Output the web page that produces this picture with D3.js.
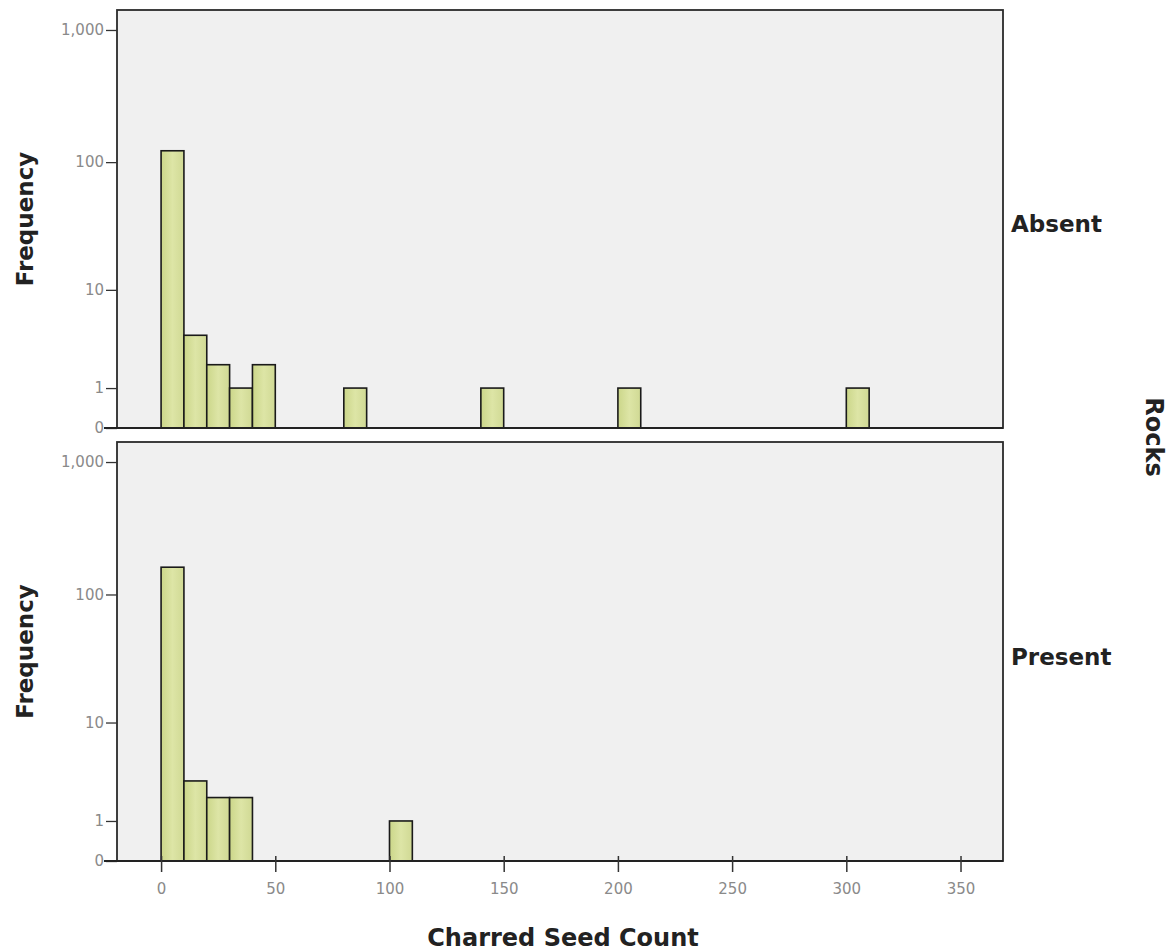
<!DOCTYPE html>
<html>
<head>
<meta charset="utf-8">
<script src="https://cdn.jsdelivr.net/npm/d3@7"></script>
<style>
  body { margin: 0; background: #ffffff; }
  svg { display: block; }
</style>
</head>
<body>
<div id="chart"></div>
<script>
// ---- Data ----
const panels = ["Absent", "Present"];
const binStarts = [0, 10, 20, 30, 40, 80, 100, 140, 200, 300];
const binWidth = 10;
const absentCounts  = [122, 4, 2, 1, 2, 1, 0, 1, 1, 1];
const presentCounts = [161, 3, 2, 2, 0, 0, 1, 0, 0, 0];
const xTicks = [0, 50, 100, 150, 200, 250, 300, 350];
const yTicks = [0, 1, 10, 100, 1000];
const yTickLabels = ["0", "1", "10", "100", "1,000"];
const xTitle = "Charred Seed Count";
const yTitle = "Frequency";
const facetTitle = "Rocks";

const W = 1171, H = 951;
const svg = d3.select("#chart").append("svg").attr("width", W).attr("height", H);

const left = 117, right = 1003;
const panelGeom = [
  { top: 10, bottom: 428 },
  { top: 442, bottom: 861 }
];
const FONT = "DejaVu Sans, sans-serif";

const x = d3.scaleLinear().domain([-19.3, 368.6]).range([left, right]);
const seriesList = [absentCounts, presentCounts];

const defs = svg.append("defs");
const grad = defs.append("linearGradient").attr("id", "barFill").attr("x1", 0).attr("x2", 1).attr("y1", 0).attr("y2", 0);
grad.append("stop").attr("offset", "0%").attr("stop-color", "#cbd689");
grad.append("stop").attr("offset", "50%").attr("stop-color", "#dde5a6");
grad.append("stop").attr("offset", "100%").attr("stop-color", "#d0d994");

panelGeom.forEach((g, i) => {
  const y = d3.scaleSymlog().constant(1).domain([0, 1415]).range([g.bottom, g.top]);
  const gp = svg.append("g");

  gp.append("rect").attr("x", left).attr("y", g.top).attr("width", right - left).attr("height", g.bottom - g.top)
    .attr("fill", "#f0f0f0");

  const data = binStarts.map((b, k) => ({ b, v: seriesList[i][k] })).filter(d => d.v > 0);
  gp.selectAll("rect.bar").data(data).enter().append("rect").attr("class", "bar")
    .attr("x", d => x(d.b))
    .attr("width", d => x(d.b + binWidth) - x(d.b))
    .attr("y", d => y(d.v))
    .attr("height", d => y(0) - y(d.v))
    .attr("fill", "url(#barFill)")
    .attr("stroke", "#1a1a1a").attr("stroke-width", 1.6);

  gp.append("rect").attr("x", left).attr("y", g.top).attr("width", right - left).attr("height", g.bottom - g.top)
    .attr("fill", "none").attr("stroke", "#2a2a2a").attr("stroke-width", 1.8);

  const yAxis = d3.axisLeft(y).tickValues(yTicks).tickFormat((d, k) => yTickLabels[k]).tickSize(11).tickPadding(2);
  const ya = gp.append("g").attr("transform", `translate(${left},0)`).call(yAxis);
  ya.select(".domain").remove();
  ya.selectAll(".tick line").attr("stroke", "#333").attr("stroke-width", 1.3);
  ya.selectAll(".tick text").attr("fill", "#8a8a8a").style("font-family", FONT).style("font-size", "15px");
  gp.append("line").attr("x1", left - 13).attr("x2", right).attr("y1", y(0)).attr("y2", y(0))
    .attr("stroke", "#222").attr("stroke-width", 2);

  svg.append("text").attr("transform", `translate(33,${(g.top + g.bottom) / 2}) rotate(-90)`)
    .attr("text-anchor", "middle").style("font-family", FONT).style("font-weight", "bold")
    .style("font-size", "23px").attr("fill", "#222").text(yTitle);

  svg.append("text").attr("x", 1011).attr("y", (g.top + g.bottom) / 2 + 13)
    .style("font-family", FONT).style("font-weight", "bold")
    .style("font-size", "23px").attr("fill", "#222").text(panels[i]);
});

const xAxis = d3.axisBottom(x).tickValues(xTicks).tickSize(0).tickPadding(22);
const xa = svg.append("g").attr("transform", `translate(0,${panelGeom[1].bottom})`).call(xAxis);
xa.select(".domain").remove();
xa.selectAll(".tick text").attr("fill", "#8a8a8a").style("font-family", FONT).style("font-size", "15px");
xa.selectAll(".tick").append("line").attr("y1", -5).attr("y2", 11).attr("stroke", "#333").attr("stroke-width", 1.5);

svg.append("text").attr("x", 563).attr("y", 946).attr("text-anchor", "middle")
  .style("font-family", FONT).style("font-weight", "bold")
  .style("font-size", "24px").attr("fill", "#222").text(xTitle);

svg.append("text").attr("transform", `translate(1146,437) rotate(90)`).attr("text-anchor", "middle")
  .style("font-family", FONT).style("font-weight", "bold")
  .style("font-size", "24px").attr("fill", "#222").text(facetTitle);
</script>
</body>
</html>
